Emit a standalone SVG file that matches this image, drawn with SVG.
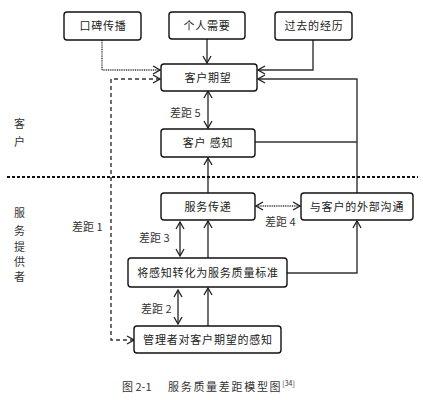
<svg xmlns="http://www.w3.org/2000/svg" width="423" height="400" viewBox="0 0 423 400">
<style>
.box{fill:#fff;stroke:#111;stroke-width:1.4}
.t{font-family:"Noto Sans CJK SC","Noto Sans",sans-serif;font-size:11px;fill:#222;text-anchor:middle;letter-spacing:0.8px}
.l{font-family:"Noto Sans CJK SC","Noto Sans",sans-serif;font-size:11px;fill:#333}
.c{fill:none;stroke:#333;stroke-width:1.4}
</style>
<defs>
<marker id="a" markerWidth="9" markerHeight="10" refX="8" refY="5" orient="auto-start-reverse" markerUnits="userSpaceOnUse">
<path d="M1,1 L8,5 L1,9" fill="none" stroke="#222" stroke-width="1.3"/>
</marker>
</defs>
<g id="connectors">
<path class="c" d="M102,40 V70 H160" stroke-dasharray="1 0.8" stroke-width="1.8" marker-end="url(#a)"/>
<path class="c" d="M207,38 V63" marker-end="url(#a)"/>
<path class="c" d="M313,40 V70 H258" marker-end="url(#a)"/>
<path class="c" d="M357,193 V79 H258" stroke="#111" stroke-width="2" marker-end="url(#a)"/>
<path class="c" d="M255,142 H357"/>
<path class="c" d="M208,91 V128" marker-start="url(#a)" marker-end="url(#a)"/>
<path class="c" d="M208,193 V158" marker-end="url(#a)"/>
<path class="c" d="M256,206 H300" stroke-dasharray="1 0.8" stroke-width="1.6" marker-start="url(#a)" marker-end="url(#a)"/>
<path class="c" d="M180,222 V256" marker-start="url(#a)" marker-end="url(#a)"/>
<path class="c" d="M208,258 V221" marker-end="url(#a)"/>
<path class="c" d="M287,273 H357 V221" stroke-width="1.6" marker-end="url(#a)"/>
<path class="c" d="M178,290 V324" marker-start="url(#a)" marker-end="url(#a)"/>
<path class="c" d="M208,326 V288" marker-end="url(#a)"/>
<path class="c" d="M160,79 H111 V340 H134" stroke="#111" stroke-dasharray="4 3" stroke-width="1.5" marker-start="url(#a)" marker-end="url(#a)"/>
<path d="M7,177 H418" stroke="#111" stroke-width="2" stroke-dasharray="3 2" fill="none"/>
</g>
<g id="n1"><rect class="box" x="64" y="12" width="77" height="28" rx="3"/><text class="t" x="103" y="30">口碑传播</text></g>
<g id="n2"><rect class="box" x="169" y="12" width="76" height="27" rx="3"/><text class="t" x="207" y="30">个人需要</text></g>
<g id="n3"><rect class="box" x="275" y="12" width="77" height="28" rx="3"/><text class="t" x="314" y="30">过去的经历</text></g>
<g id="n4"><rect class="box" x="161" y="64" width="96" height="27" rx="3"/><text class="t" x="208" y="82">客户期望</text></g>
<g id="n5"><rect class="box" x="161" y="129" width="94" height="28" rx="3"/><text class="t" x="208" y="147">客户 感知</text></g>
<g id="n6"><rect class="box" x="161" y="193" width="94" height="27" rx="3"/><text class="t" x="208" y="211">服务传递</text></g>
<g id="n7"><rect class="box" x="301" y="193" width="112" height="27" rx="3"/><text class="t" x="357" y="211">与客户的外部沟通</text></g>
<g id="n8"><rect class="box" x="128" y="258" width="159" height="29" rx="3"/><text class="t" x="208" y="277">将感知转化为服务质量标准</text></g>
<g id="n9"><rect class="box" x="134" y="326" width="147" height="27" rx="3"/><text class="t" x="208" y="344">管理者对客户期望的感知</text></g>
<g id="labels">
<text class="l" x="170" y="117">差距 5</text>
<text class="l" x="265" y="226">差距 4</text>
<text class="l" x="139" y="242">差距 3</text>
<text class="l" x="72" y="231">差距 1</text>
<text class="l" x="141" y="313">差距 2</text>
<text class="l" x="14" y="128">客</text>
<text class="l" x="14" y="146">户</text>
<text class="l" x="14" y="217">服</text>
<text class="l" x="14" y="235">务</text>
<text class="l" x="14" y="251">提</text>
<text class="l" x="14" y="266">供</text>
<text class="l" x="14" y="281">者</text>
<text class="l" x="122" y="391">图 2-1<tspan x="168" letter-spacing="1.7">服务质量差距模型图</tspan><tspan font-size="7" dy="-5">[34]</tspan></text>
</g>
</svg>
